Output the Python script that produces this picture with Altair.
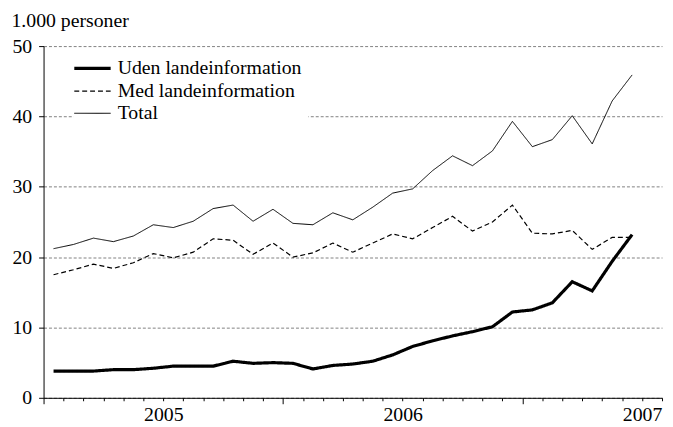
import altair as alt
import pandas as pd

months = [
    "2005-01", "2005-02", "2005-03", "2005-04", "2005-05", "2005-06",
    "2005-07", "2005-08", "2005-09", "2005-10", "2005-11", "2005-12",
    "2006-01", "2006-02", "2006-03", "2006-04", "2006-05", "2006-06",
    "2006-07", "2006-08", "2006-09", "2006-10", "2006-11", "2006-12",
    "2007-01", "2007-02", "2007-03", "2007-04", "2007-05", "2007-06",
]
uden = [3.8, 3.8, 3.8, 4.0, 4.0, 4.2, 4.5, 4.5, 4.5, 5.2, 4.9, 5.0,
        4.9, 4.1, 4.6, 4.8, 5.2, 6.1, 7.3, 8.1, 8.8, 9.4, 10.1, 12.2,
        12.5, 13.5, 16.5, 15.2, 19.4, 23.2]
med = [17.5, 18.2, 19.0, 18.4, 19.2, 20.5, 19.9, 20.7, 22.6, 22.4, 20.4, 22.0,
       20.0, 20.6, 22.0, 20.7, 22.0, 23.3, 22.6, 24.2, 25.8, 23.7, 25.0, 27.4,
       23.4, 23.3, 23.8, 21.1, 22.8, 22.8]
total = [21.2, 21.8, 22.7, 22.2, 23.0, 24.6, 24.2, 25.1, 26.9, 27.4, 25.1, 26.8,
         24.8, 24.6, 26.3, 25.3, 27.1, 29.1, 29.7, 32.3, 34.4, 33.0, 35.1, 39.3,
         35.7, 36.7, 40.1, 36.1, 42.2, 45.9]

series = ["Uden landeinformation", "Med landeinformation", "Total"]
year_labels = {6: "2005", 18: "2006", 30: "2007"}

rows = []
for name, vals in zip(series, [uden, med, total]):
    for i, (m, v) in enumerate(zip(months, vals)):
        rows.append({"month": m, "pos": i + 0.5, "series": name, "value": v})
df = pd.DataFrame(rows)

FONT = "Liberation Serif"

label_expr = " : ".join(
    [f"datum.value === {k} ? '{v}'" for k, v in year_labels.items()]
) + " : ''"

chart = alt.Chart(df).mark_line(color="black").encode(
    x=alt.X(
        "pos:Q",
        scale=alt.Scale(domain=[0, len(months) + 1], nice=False, zero=False),
        axis=alt.Axis(
            values=list(range(len(months) + 2)),
            tickSize={"condition": {"test": "datum.value % 12 === 0", "value": 6}, "value": 3},
            labelExpr=label_expr,
            labelOverlap=False,
            labelFlush=False,
            labelBound=False,
            labelPadding=4,
            labelFont=FONT,
            labelFontSize=20,
            labelColor="black",
            domainColor="black",
            tickColor="black",
            grid=False,
            title=None,
        ),
    ),
    y=alt.Y(
        "value:Q",
        scale=alt.Scale(domain=[0, 50], nice=False),
        axis=alt.Axis(
            values=[0, 10, 20, 30, 40, 50],
            tickSize=5,
            labelPadding=7,
            labelFont=FONT,
            labelFontSize=20,
            labelColor="black",
            domainColor="black",
            tickColor="black",
            grid=True,
            gridColor="#808080",
            gridDash=[3, 2],
            gridWidth=1,
            title="1.000 personer",
            titleAngle=0,
            titleAlign="left",
            titleBaseline="alphabetic",
            titleX=-33,
            titleY=-20,
            titleFont=FONT,
            titleFontSize=20,
            titleFontWeight="normal",
            titleColor="black",
        ),
    ),
    strokeDash=alt.StrokeDash(
        "series:N",
        scale=alt.Scale(domain=series, range=[[1, 0], [5, 3], [1, 0]]),
        legend=alt.Legend(title=None),
    ),
    strokeWidth=alt.StrokeWidth(
        "series:N",
        scale=alt.Scale(type="ordinal", domain=series, range=[3.2, 1.2, 1]),
        legend=alt.Legend(title=None),
    ),
).properties(
    width=626,
    height=356,
    autosize=alt.AutoSizeParams(type="none"),
    padding={"left": 36, "top": 36, "right": 3, "bottom": 27},
    background="white",
).configure_view(
    stroke=None
).configure_axis(
    titleFont=FONT,
    labelFont=FONT,
).configure_legend(
    orient="none",
    legendX=30,
    legendY=3,
    fillColor="white",
    padding=6,
    labelFont=FONT,
    labelFontSize=20,
    labelColor="black",
    labelOffset=12,
    labelLimit=0,
    symbolType="M-1.6,0H1.6",
    symbolSize=529,
    symbolStrokeColor="black",
    symbolFillColor="transparent",
    rowPadding=0,
)

chart.save("out.html", embed_options={"renderer": "svg", "actions": False})
